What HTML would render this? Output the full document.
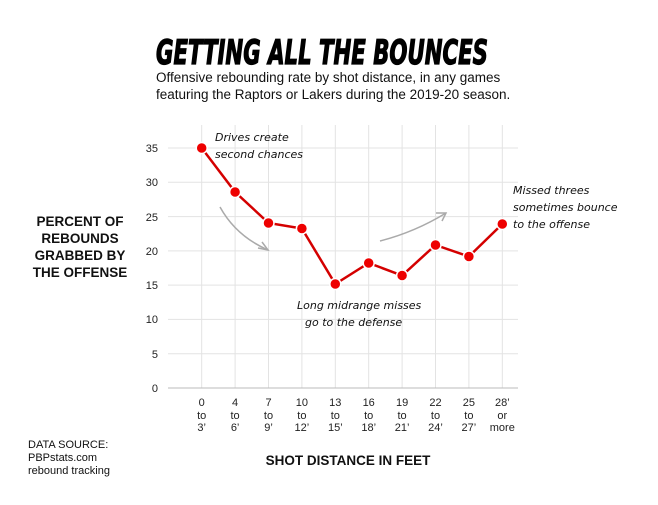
<!DOCTYPE html>
<html><head><style>
body{margin:0;background:#fff;}
svg text{font-family:"Liberation Sans",sans-serif;}
.hand{font-family:"Comic Sans MS","DejaVu Sans",cursive;font-size:11px;fill:#111;font-style:italic;}
</style></head><body>
<svg width="658" height="500" xmlns="http://www.w3.org/2000/svg">
<text x="156" y="64" font-size="34" font-weight="900" font-style="italic" fill="#000" stroke="#000" stroke-width="1.2" style="font-family:'DejaVu Sans Condensed','Liberation Sans',sans-serif" textLength="332" lengthAdjust="spacingAndGlyphs">GETTING ALL THE BOUNCES</text>
<text x="156" y="82" font-size="13.5" fill="#111">Offensive rebounding rate by shot distance, in any games</text>
<text x="156" y="99" font-size="13.5" fill="#111">featuring the Raptors or Lakers during the 2019-20 season.</text>
<g stroke="#e3e3e3" stroke-width="1">
<line x1="168" x2="518" y1="148" y2="148"/><line x1="168" x2="518" y1="182.3" y2="182.3"/>
<line x1="168" x2="518" y1="216.6" y2="216.6"/><line x1="168" x2="518" y1="250.9" y2="250.9"/>
<line x1="168" x2="518" y1="285.1" y2="285.1"/><line x1="168" x2="518" y1="319.4" y2="319.4"/>
<line x1="168" x2="518" y1="353.7" y2="353.7"/>
<line x1="201.7" x2="201.7" y1="125" y2="388"/><line x1="235.1" x2="235.1" y1="125" y2="388"/>
<line x1="268.5" x2="268.5" y1="125" y2="388"/><line x1="301.9" x2="301.9" y1="125" y2="388"/>
<line x1="335.3" x2="335.3" y1="125" y2="388"/><line x1="368.7" x2="368.7" y1="125" y2="388"/>
<line x1="402.1" x2="402.1" y1="125" y2="388"/><line x1="435.5" x2="435.5" y1="125" y2="388"/>
<line x1="468.9" x2="468.9" y1="125" y2="388"/><line x1="502.3" x2="502.3" y1="125" y2="388"/>
</g>
<line x1="168" x2="518" y1="388" y2="388" stroke="#bbb"/>
<g font-size="11" fill="#222" text-anchor="end">
<text x="158" y="152">35</text><text x="158" y="186">30</text><text x="158" y="221">25</text>
<text x="158" y="255">20</text><text x="158" y="289">15</text><text x="158" y="323">10</text>
<text x="158" y="358">5</text><text x="158" y="392">0</text>
</g>
<g font-size="11" fill="#222" text-anchor="middle">
<text x="201.7" y="406">0</text><text x="201.7" y="419">to</text><text x="201.7" y="431">3’</text>
<text x="235.1" y="406">4</text><text x="235.1" y="419">to</text><text x="235.1" y="431">6’</text>
<text x="268.5" y="406">7</text><text x="268.5" y="419">to</text><text x="268.5" y="431">9’</text>
<text x="301.9" y="406">10</text><text x="301.9" y="419">to</text><text x="301.9" y="431">12’</text>
<text x="335.3" y="406">13</text><text x="335.3" y="419">to</text><text x="335.3" y="431">15’</text>
<text x="368.7" y="406">16</text><text x="368.7" y="419">to</text><text x="368.7" y="431">18’</text>
<text x="402.1" y="406">19</text><text x="402.1" y="419">to</text><text x="402.1" y="431">21’</text>
<text x="435.5" y="406">22</text><text x="435.5" y="419">to</text><text x="435.5" y="431">24’</text>
<text x="468.9" y="406">25</text><text x="468.9" y="419">to</text><text x="468.9" y="431">27’</text>
<text x="502.3" y="406">28’</text><text x="502.3" y="419">or</text><text x="502.3" y="431">more</text>
</g>
<polyline fill="none" stroke="#d40000" stroke-width="2.5" points="201.7,148 235.1,192 268.5,223 301.9,228.5 335.3,284 368.7,263 402.1,275.5 435.5,245 468.9,256.5 502.3,224"/>
<g fill="#ee0000" stroke="#fff" stroke-width="1.5">
<circle cx="201.7" cy="148" r="5.5"/><circle cx="235.1" cy="192" r="5.5"/><circle cx="268.5" cy="223" r="5.5"/>
<circle cx="301.9" cy="228.5" r="5.5"/><circle cx="335.3" cy="284" r="5.5"/><circle cx="368.7" cy="263" r="5.5"/>
<circle cx="402.1" cy="275.5" r="5.5"/><circle cx="435.5" cy="245" r="5.5"/><circle cx="468.9" cy="256.5" r="5.5"/>
<circle cx="502.3" cy="224" r="5.5"/>
</g>
<text class="hand" x="215" y="141">Drives create</text>
<text class="hand" x="215" y="158">second chances</text>
<text class="hand" x="297" y="309">Long midrange misses</text>
<text class="hand" x="305" y="326">go to the defense</text>
<text class="hand" x="513" y="194">Missed threes</text>
<text class="hand" x="513" y="211">sometimes bounce</text>
<text class="hand" x="513" y="228">to the offense</text>
<g fill="none" stroke="#aaa" stroke-width="1.5">
<path d="M220,207 Q236,236 268,250"/><path d="M258,248 L268,250 L262,242"/>
<path d="M380,241 Q415,232 446,213"/><path d="M436,213 L446,213 L442,221"/>
</g>
<g font-size="13.5" font-weight="bold" fill="#111" text-anchor="middle">
<text x="80" y="226">PERCENT OF</text><text x="80" y="243">REBOUNDS</text>
<text x="80" y="260">GRABBED BY</text><text x="80" y="277">THE OFFENSE</text>
<text x="348" y="465">SHOT DISTANCE IN FEET</text>
</g>
<g font-size="11" fill="#111">
<text x="28" y="448">DATA SOURCE:</text><text x="28" y="461">PBPstats.com</text><text x="28" y="474">rebound tracking</text>
</g>
</svg>
</body></html>
